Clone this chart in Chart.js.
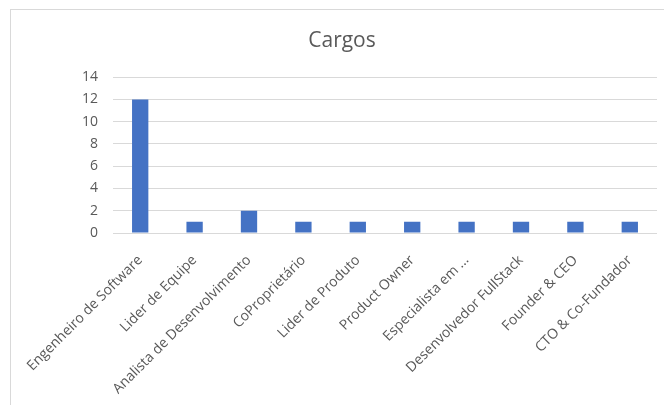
<!DOCTYPE html>
<html>
<head>
<meta charset="utf-8">
<script src="https://cdn.jsdelivr.net/npm/chart.js@4"></script>
<style>
  html, body { margin: 0; padding: 0; background: #fff; }
  #wrap { position: relative; width: 664px; height: 405px; overflow: hidden; }
  #frame { position: absolute; left: 10px; top: 9px; width: 700px; height: 450px; border: 1px solid #d9d9d9; }
  canvas { position: absolute; left: 0; top: 0; }
</style>
</head>
<body>
<div id="wrap">
  <div id="frame"></div>
  <canvas id="barChart" width="664" height="405"></canvas>
</div>
<script>
const cargos = [
    "Engenheiro de Software",
    "Lider de Equipe",
    "Analista de Desenvolvimento",
    "CoProprietário",
    "Lider de Produto",
    "Product Owner",
    "Especialista em ...",
    "Desenvolvedor FullStack",
    "Founder & CEO",
    "CTO & Co-Fundador"
];
const quantidade = [12, 1, 2, 1, 1, 1, 1, 1, 1, 1];
const yTicks = [0, 2, 4, 6, 8, 10, 12, 14];

const grey = "#595959";
const font = "'Open Sans', 'Noto Sans', sans-serif";

new Chart(document.getElementById("barChart").getContext("2d"), {
    type: "bar",
    data: {
        labels: cargos,
        datasets: [{
            label: "Cargos",
            data: quantidade,
            backgroundColor: "#4472C4",
            barPercentage: 0.3,
            categoryPercentage: 1
        }]
    },
    options: {
        responsive: false,
        animation: false,
        // left padding pushes the title centre to the right like the original
        layout: { padding: { left: 27, right: 7, top: 0, bottom: 0 } },
        plugins: {
            legend: { display: false },
            tooltip: { enabled: false },
            title: {
                display: true,
                text: "Cargos",
                color: grey,
                font: { family: font, size: 21, weight: "normal" },
                padding: { top: 28, bottom: 24 }
            }
        },
        scales: {
            x: {
                grid: { display: false },
                border: { display: false },
                ticks: {
                    color: grey,
                    font: { family: font, size: 14 },
                    minRotation: 45,
                    maxRotation: 45,
                    autoSkip: false,
                    padding: 11
                },
                afterFit: s => { s.height = 172; }
            },
            y: {
                min: 0,
                max: yTicks[yTicks.length - 1],
                afterBuildTicks: s => { s.ticks = yTicks.map(v => ({ value: v })); },
                grid: { color: "#d9d9d9", drawTicks: false },
                border: { display: false },
                ticks: {
                    color: grey,
                    font: { family: font, size: 14 },
                    padding: 15
                },
                afterFit: s => { s.width = 86; }
            }
        }
    }
});
</script>
</body>
</html>
